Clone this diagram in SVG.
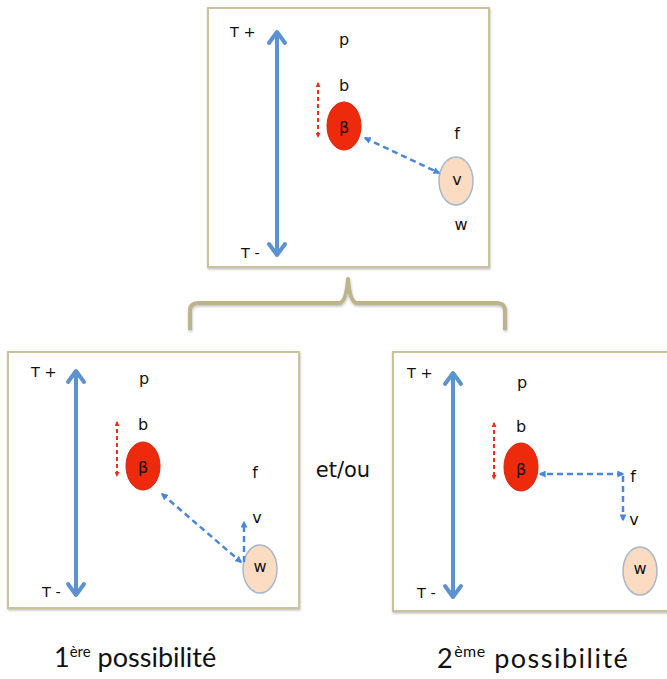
<svg xmlns="http://www.w3.org/2000/svg" width="667" height="679" viewBox="0 0 667 679">
<defs>
<style>
.box{fill:#ffffff;stroke:#cbc29c;stroke-width:2;filter:url(#sh)}
.lbl{font-family:"DejaVu Sans",sans-serif;font-size:16px;fill:#111111;text-anchor:middle}
.tl{font-family:"DejaVu Sans",sans-serif;font-size:14.5px;fill:#111111}
.axis{fill:none;stroke:#5b92cf;stroke-width:4;stroke-linecap:round;stroke-linejoin:round}
.red{fill:#ee2a0c;stroke:#d8250a;stroke-width:1}
.peach{fill:#fbdcc2;stroke:#a7b8cc;stroke-width:1.5}
.rd{fill:none;stroke:#e8301c;stroke-width:2;stroke-dasharray:4 3;marker-start:url(#mr);marker-end:url(#mr)}
.bd{fill:none;stroke:#4a86dc;stroke-width:2.5;stroke-dasharray:6 4}
.cap{font-family:Lato,"Open Sans",sans-serif;font-size:27px;fill:#111111}
</style>
<filter id="sh" x="-5%" y="-5%" width="110%" height="115%">
<feDropShadow dx="0.5" dy="1.5" stdDeviation="1.2" flood-color="#000000" flood-opacity="0.25"/>
</filter>
<marker id="mr" viewBox="0 0 10 10" refX="8" refY="5" markerWidth="5" markerHeight="5" orient="auto-start-reverse" markerUnits="userSpaceOnUse">
<path d="M0,0 L10,5 L0,10 z" fill="#e8301c"/>
</marker>
<marker id="mb" viewBox="0 0 10 10" refX="8" refY="5" markerWidth="7" markerHeight="7" orient="auto-start-reverse" markerUnits="userSpaceOnUse">
<path d="M0,0 L10,5 L0,10 z" fill="#4a86dc"/>
</marker>
</defs>
<rect width="667" height="679" fill="#ffffff"/>

<!-- frames -->
<g id="frame-top"><rect class="box" x="208" y="8" width="281" height="259"/></g>
<g id="frame-left"><rect class="box" x="8" y="352" width="291" height="256"/></g>
<g id="frame-right"><rect class="box" x="393" y="352" width="280" height="259"/></g>

<!-- bracket -->
<g id="bracket">
<path d="M190,330 V311 Q190,303 198,303 H339 Q346,303 348,279 Q350,303 357,303 H497 Q505,303 505,311 V330" fill="none" stroke="#bdb48b" stroke-width="4" stroke-linejoin="round" filter="url(#sh)"/>
</g>

<!-- top panel nodes -->
<g id="top-labels">
<text class="tl" x="230" y="37">T +</text>
<text class="tl" x="241" y="258">T -</text>
<text class="lbl" x="344" y="45">p</text>
<text class="lbl" x="344" y="91">b</text>
<text class="lbl" x="457" y="139">f</text>
<text class="lbl" x="461" y="230">w</text>
</g>
<g id="top-beta"><ellipse class="red" cx="344" cy="126" rx="17" ry="24"/><text class="lbl" x="344" y="133">β</text></g>
<g id="top-v"><ellipse class="peach" cx="456" cy="181" rx="17" ry="24"/><text class="lbl" x="457" y="185">v</text></g>

<!-- left panel nodes -->
<g id="left-labels">
<text class="tl" x="31" y="377">T +</text>
<text class="tl" x="42" y="597">T -</text>
<text class="lbl" x="144" y="384">p</text>
<text class="lbl" x="143" y="430">b</text>
<text class="lbl" x="255" y="478">f</text>
<text class="lbl" x="257" y="523">v</text>
</g>
<g id="left-beta"><ellipse class="red" cx="143" cy="466" rx="17" ry="24"/><text class="lbl" x="143" y="473">β</text></g>
<g id="left-w"><ellipse class="peach" cx="260" cy="569" rx="17" ry="24"/><text class="lbl" x="260" y="572">w</text></g>

<!-- right panel nodes -->
<g id="right-labels">
<text class="tl" x="407" y="378">T +</text>
<text class="tl" x="417" y="598">T -</text>
<text class="lbl" x="522" y="388">p</text>
<text class="lbl" x="521" y="432">b</text>
<text class="lbl" x="633" y="482">f</text>
<text class="lbl" x="634" y="525">v</text>
</g>
<g id="right-beta"><ellipse class="red" cx="521" cy="467" rx="17" ry="24"/><text class="lbl" x="521" y="475">β</text></g>
<g id="right-w"><ellipse class="peach" cx="640" cy="571" rx="17" ry="24"/><text class="lbl" x="640" y="574">w</text></g>

<!-- middle and captions -->
<g id="etou"><text x="343" y="477" font-family="DejaVu Sans, sans-serif" font-size="21" fill="#111111" text-anchor="middle">et/ou</text></g>
<g id="caption-1"><text class="cap" x="54" y="667">1<tspan font-size="15" dy="-10">ère</tspan><tspan dy="10"> possibilité</tspan></text></g>
<g id="caption-2"><text class="cap" x="437" y="668" font-size="30" letter-spacing="1.5">2<tspan font-size="16" dy="-11" letter-spacing="0.5">ème</tspan><tspan dy="11"> possibilité</tspan></text></g>

<!-- connectors -->
<g id="connectors">
<!-- top -->
<line class="axis" x1="277" y1="33" x2="277" y2="254"/>
<polyline class="axis" points="269,43 277,32 285,43"/>
<polyline class="axis" points="269,244 277,255 285,244"/>
<line class="rd" x1="318" y1="83" x2="318" y2="137"/>
<line class="bd" x1="365" y1="138" x2="439" y2="173" marker-start="url(#mb)" marker-end="url(#mb)"/>
<!-- left -->
<line class="axis" x1="76" y1="372" x2="76" y2="594"/>
<polyline class="axis" points="68,382 76,371 84,382"/>
<polyline class="axis" points="68,584 76,595 84,584"/>
<line class="rd" x1="117" y1="422" x2="117" y2="476"/>
<line class="bd" x1="162" y1="494" x2="241" y2="562" marker-start="url(#mb)" marker-end="url(#mb)"/>
<line class="bd" x1="244" y1="562" x2="244" y2="522" marker-end="url(#mb)"/>
<!-- right -->
<line class="axis" x1="453" y1="374" x2="453" y2="596"/>
<polyline class="axis" points="445,384 453,373 461,384"/>
<polyline class="axis" points="445,586 453,597 461,586"/>
<line class="rd" x1="494" y1="423" x2="494" y2="479"/>
<line class="bd" x1="623" y1="474" x2="540" y2="474" marker-start="url(#mb)" marker-end="url(#mb)"/>
<line class="bd" x1="623" y1="476" x2="623" y2="520" marker-end="url(#mb)"/>
</g>
</svg>
